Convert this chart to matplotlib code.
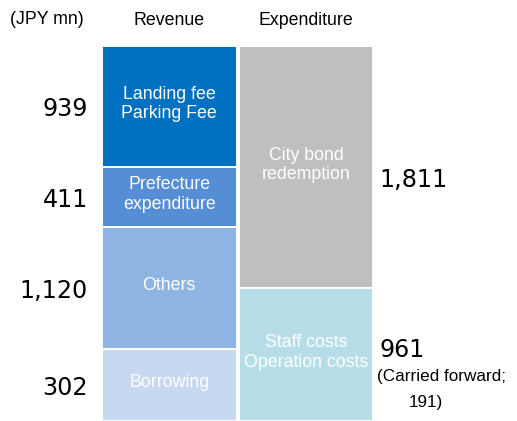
import matplotlib
matplotlib.use("Agg")
import matplotlib.pyplot as plt

# ---- data ----
columns = ["Revenue", "Expenditure"]
revenue_labels = ["Borrowing", "Others", "Prefecture\nexpenditure", "Landing fee\nParking Fee"]
revenue_values = ["302", "1,120", "411", "939"]           # printed values
revenue_heights = [532, 902, 447, 891]                      # drawn heights
revenue_colors = ["#C6D9F1", "#8EB4E3", "#558ED5", "#0070C0"]

expend_labels = ["Staff costs\nOperation costs", "City bond\nredemption"]
expend_values = ["961", "1,811"]
expend_heights = [983, 1789]
expend_colors = ["#B7DEE8", "#BFBFBF"]
carried_note = ["(Carried forward;", "191)"]
unit_label = "(JPY mn)"

W, H = 517, 421
fig = plt.figure(figsize=(W / 100, H / 100), dpi=100)
ax_top_px = 46
ax = fig.add_axes([0, 0, 1, (H - ax_top_px) / H])
total = sum(revenue_heights)
ax.set_ylim(0, total)
px_per_unit = 136.8
c0 = 169.2
ax.set_xlim(-c0 / px_per_unit, (W - c0) / px_per_unit)
ax.axis("off")

arial = "Liberation Sans"
numfont = "DejaVu Sans"
numsize = 17.2
bw = 0.985

def stack(x, heights, colors, labels, values, side):
    bottom = 0
    for h, col, lab, val in zip(heights, colors, labels, values):
        ax.bar(x, h, bottom=bottom, width=bw, color=col, edgecolor="white",
               linewidth=1.4)
        mid = bottom + h / 2
        ax.annotate(lab, xy=(x, mid), xytext=(0, 1.5), textcoords="offset points",
                    ha="center", va="center", color="white",
                    fontsize=12.8, family=arial, linespacing=1.2)
        if side == "left":
            ax.annotate(val, xy=(x - bw / 2, mid), xytext=(-10, -2),
                        textcoords="offset points", ha="right", va="center",
                        fontsize=numsize, family=numfont, color="black")
        bottom += h
    return bottom

stack(0, revenue_heights, revenue_colors, revenue_labels, revenue_values, "left")
stack(1, expend_heights, expend_colors, expend_labels, expend_values, "right")

# right side values for expenditure
mid_staff = expend_heights[0] / 2
mid_bond = expend_heights[0] + expend_heights[1] / 2
ax.annotate(expend_values[1], xy=(1 + bw / 2, mid_bond), xytext=(4.5, -9.5),
            textcoords="offset points", ha="left", va="center",
            fontsize=numsize, family=numfont, color="black")
ax.annotate(expend_values[0], xy=(1 + bw / 2, mid_staff), xytext=(4.5, 3),
            textcoords="offset points", ha="left", va="center",
            fontsize=numsize, family=numfont, color="black")
ax.annotate(carried_note[0], xy=(1 + bw / 2, mid_staff), xytext=(2.5, -16),
            textcoords="offset points", ha="left", va="center",
            fontsize=12.3, family=arial, color="black")
ax.annotate(carried_note[1], xy=(1 + bw / 2, mid_staff), xytext=(38, -34.5),
            textcoords="offset points", ha="center", va="center",
            fontsize=12.3, family=arial, color="black")

# headers
for i, name in enumerate(columns):
    ax.annotate(name, xy=(i, total), xytext=(0, 18.5), textcoords="offset points",
                ha="center", va="center", fontsize=12.8, family=arial,
                color="black", annotation_clip=False)
fig.text(10 / W, 1 - 20 / H, unit_label, ha="left", va="center",
         fontsize=12.8, family=arial, color="black")

fig.savefig("out.png", dpi=100)
